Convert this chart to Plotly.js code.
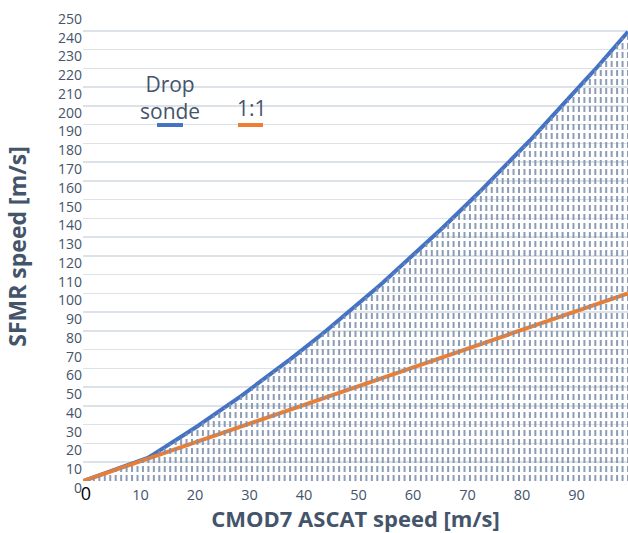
<!DOCTYPE html>
<html><head><meta charset="utf-8">
<script src="https://cdn.plot.ly/plotly-3.0.1.min.js"></script>
<style>html,body{margin:0;padding:0;background:#fff}#chart{width:628px;height:533px}</style>
</head><body><div id="chart"></div>
<script>
const ascatSpeed = [0,1,2,3,4,5,6,7,8,9,10,11,12,13,14,15,16,17,18,19,20,21,22,23,24,25,26,27,28,29,30,31,32,33,34,35,36,37,38,39,40,41,42,43,44,45,46,47,48,49,50,51,52,53,54,55,56,57,58,59,60,61,62,63,64,65,66,67,68,69,70,71,72,73,74,75,76,77,78,79,80,81,82,83,84,85,86,87,88,89,90,91,92,93,94,95,96,97,98,99,100];
const dropsondeSfmr = [0,1,2,3,4,5,6,7,8,9,10,11.1,12.5,14.3,16.1,17.9,19.7,21.6,23.5,25.4,27.3,29.2,31.2,33.1,35.1,37.1,39.1,41.2,43.2,45.3,47.4,49.5,51.6,53.8,56.0,58.1,60.3,62.6,64.8,67.1,69.3,71.6,74.0,76.3,78.6,81.0,83.4,85.8,88.2,90.7,93.1,95.6,98.1,100.6,103.2,105.7,108.3,110.9,113.5,116.1,118.7,121.4,124.1,126.8,129.5,132.2,135.0,137.8,140.5,143.4,146.2,149.0,151.9,154.8,157.7,160.6,163.5,166.5,169.5,172.4,175.5,178.5,181.5,184.6,187.7,190.8,193.9,197.0,200.2,203.4,206.6,209.8,213.0,216.3,219.5,222.8,226.1,229.4,232.8,236.1,239.5];
const oneToOne = [0,1,2,3,4,5,6,7,8,9,10,11,12,13,14,15,16,17,18,19,20,21,22,23,24,25,26,27,28,29,30,31,32,33,34,35,36,37,38,39,40,41,42,43,44,45,46,47,48,49,50,51,52,53,54,55,56,57,58,59,60,61,62,63,64,65,66,67,68,69,70,71,72,73,74,75,76,77,78,79,80,81,82,83,84,85,86,87,88,89,90,91,92,93,94,95,96,97,98,99,100];
const xTickVals = [0,10,20,30,40,50,60,70,80,90];
const xTickText = ['<span style="color:#000000;font-size:18px">0</span>','10','20','30','40','50','60','70','80','90'];
const yTickVals = [0,10,20,30,40,50,60,70,80,90,100,110,120,130,140,150,160,170,180,190,200,210,220,230,240,250];
const yTickText = ['0','10','20','30','40','50','60','70','80','90','100','110','120','130','140','150','160','170','180','190','200','210','220','230','240','250'];
const seriesNames = ['Drop<br>sonde','1:1'];

const slate = '#44546a';
const font = 'Open Sans, Lato, sans-serif';

// drop lines from each Drop sonde point down to the x axis
const dropX = [], dropY = [];
for (let i = 0; i < ascatSpeed.length; i++) {
  dropX.push(ascatSpeed[i], ascatSpeed[i], null);
  dropY.push(0, dropsondeSfmr[i], null);
}

const traces = [
  {x: ascatSpeed, y: dropsondeSfmr, type: 'scatter', mode: 'lines', name: 'Drop sonde',
   line: {color: '#4472c4', width: 4}},
  {x: ascatSpeed, y: oneToOne, type: 'scatter', mode: 'lines', name: '1:1',
   line: {color: '#ed7d31', width: 4}},
  {x: dropX, y: dropY, type: 'scatter', mode: 'lines', name: 'drop lines', connectgaps: false,
   line: {color: '#8093ad', width: 2, dash: '6px,3px'}, opacity: 0.9, hoverinfo: 'skip'}
];

const layout = {
  width: 628, height: 533,
  margin: {l: 83, r: 0, t: 12, b: 52},
  paper_bgcolor: '#ffffff', plot_bgcolor: '#ffffff',
  showlegend: false,
  font: {family: font, color: slate},
  xaxis: {
    range: [0, 100], showgrid: false, zeroline: false, showline: false, ticks: '',
    tickmode: 'array', tickvals: xTickVals, ticktext: xTickText,
    tickfont: {family: font, size: 14.5, color: slate},
    ticklabelshift: 3, ticklabelstandoff: 3,
    title: {text: '<b>CMOD7 ASCAT speed [m/s]</b>', font: {family: font, size: 22, color: slate}, standoff: 6}
  },
  yaxis: {
    range: [0, 250], showgrid: true, gridcolor: '#dde1e8', gridwidth: 1.5,
    zeroline: false, showline: false, ticks: '',
    tickmode: 'array', tickvals: yTickVals, ticktext: yTickText,
    tickfont: {family: font, size: 14, color: slate},
    ticklabelshift: 7, ticklabelstandoff: 0,
    title: {text: '<b>SFMR speed [m/s]</b>', font: {family: font, size: 23, color: slate}, standoff: 24}
  },
  annotations: [
    {text: seriesNames[0], xref: 'paper', yref: 'paper', x: 0.1596, y: 0.8177, xanchor: 'center', yanchor: 'middle',
     showarrow: false, font: {family: font, size: 21, color: slate}},
    {text: seriesNames[1], xref: 'paper', yref: 'paper', x: 0.310, y: 0.795, xanchor: 'center', yanchor: 'middle',
     showarrow: false, font: {family: font, size: 21, color: slate}}
  ],
  shapes: [
    {type: 'line', xref: 'paper', yref: 'paper', x0: 0.1358, x1: 0.1835, y0: 0.759, y1: 0.759,
     line: {color: '#4472c4', width: 4}},
    {type: 'line', xref: 'paper', yref: 'paper', x0: 0.2844, x1: 0.3303, y0: 0.759, y1: 0.759,
     line: {color: '#ed7d31', width: 4}}
  ]
};

Plotly.newPlot('chart', traces, layout, {displayModeBar: false, staticPlot: true});
</script>
</body></html>
